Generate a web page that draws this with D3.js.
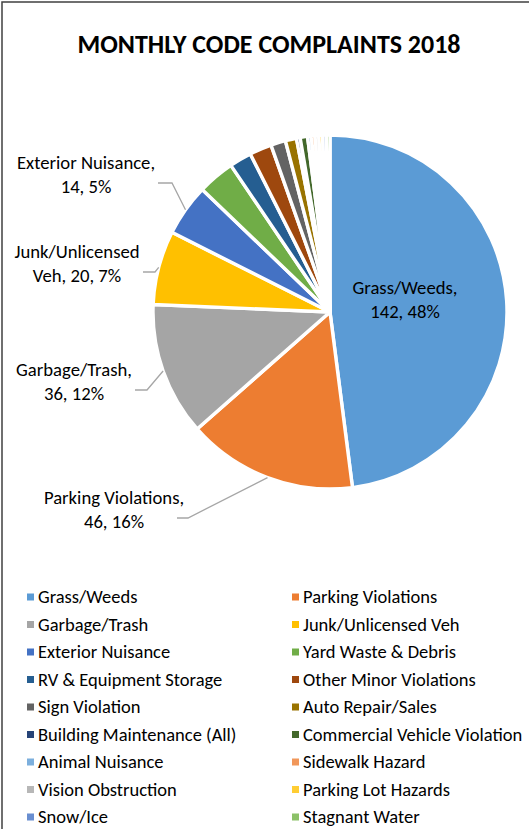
<!DOCTYPE html>
<html>
<head>
<meta charset="utf-8">
<script src="https://cdn.jsdelivr.net/npm/d3@7"></script>
<style>
    body { margin: 0; background: #fff; }
    text { font-family: Calibri, Carlito, Lato, sans-serif; fill: #000; }
</style>
</head>
<body>
<script>
// Complaint categories in legend order
const categories = [
    "Grass/Weeds", "Parking Violations", "Garbage/Trash", "Junk/Unlicensed Veh",
    "Exterior Nuisance", "Yard Waste & Debris", "RV & Equipment Storage", "Other Minor Violations",
    "Sign Violation", "Auto Repair/Sales", "Building Maintenance (All)", "Commercial Vehicle Violation",
    "Animal Nuisance", "Sidewalk Hazard", "Vision Obstruction", "Parking Lot Hazards",
    "Snow/Ice", "Stagnant Water"
];
const counts = [142, 46, 36, 20, 14, 10, 6, 6, 4, 3, 1, 2, 1, 1, 1, 1, 1, 1];

// Excel office palette
const colors = [
    "#5b9bd5", "#ed7d31", "#a5a5a5", "#ffc000", "#4472c4", "#70ad47",
    "#255e91", "#9e480e", "#636363", "#997300", "#264478", "#43682b",
    "#7cafdd", "#f1975a", "#b7b7b7", "#ffcd33", "#698ed0", "#8cc168"
];

const data = categories.map((c, i) => ({name: c, value: counts[i]}));
const total = d3.sum(counts);

const width = 529;
const height = 829;
const cx = 330, cy = 312, radius = 177;

const svg = d3.select("body").append("svg")
    .attr("width", width)
    .attr("height", height);

// chart border (runs off right / bottom)
svg.append("rect")
    .attr("x", 2).attr("y", 2)
    .attr("width", 700).attr("height", 1000)
    .attr("fill", "none")
    .attr("stroke", "#404040")
    .attr("stroke-width", 1.5);

svg.append("text")
    .attr("x", 269).attr("y", 53)
    .attr("text-anchor", "middle")
    .attr("font-size", "26px")
    .attr("font-weight", "bold")
    .text("MONTHLY CODE COMPLAINTS 2018");

const color = d3.scaleOrdinal().domain(categories).range(colors);

const pie = d3.pie().sort(null).value(d => d.value);
const arcs = pie(data);
const arc = d3.arc().innerRadius(0).outerRadius(radius);

const g = svg.append("g").attr("transform", `translate(${cx}, ${cy})`);

g.selectAll("path")
    .data(arcs)
    .enter().append("path")
        .attr("d", arc)
        .attr("fill", d => color(d.data.name))
        .attr("stroke", "#fff")
        .attr("stroke-width", 3.4)
        .attr("stroke-linejoin", "round");

// Data labels: text anchor + horizontal elbow for the outside ones
const labelLayout = [
    {i: 0, x: 405, y: 294, inside: true, lines: ["Grass/Weeds,", null]},
    {i: 1, x: 114, y: 504, elbow: [188, 177], lines: ["Parking Violations,", null]},
    {i: 2, x: 74, y: 376, elbow: [147, 135], lines: ["Garbage/Trash,", null]},
    {i: 3, x: 77, y: 258, elbow: [155, 143], lines: ["Junk/Unlicensed", "Veh, "]},
    {i: 4, x: 86, y: 169, elbow: [172, 158], lines: ["Exterior Nuisance,", null]}
];

const pct = d => Math.round(d.value / total * 100) + "%";

labelLayout.forEach(l => {
    const a = arcs[l.i];
    const lines = l.lines[1] === null
        ? [l.lines[0], `${a.data.value}, ${pct(a.data)}`]
        : [l.lines[0], `${l.lines[1]}${a.data.value}, ${pct(a.data)}`];

    const t = svg.append("text")
        .attr("text-anchor", "middle")
        .attr("font-size", "18.7px");
    lines.forEach((s, k) => {
        t.append("tspan")
            .attr("x", l.x)
            .attr("y", l.y + k * 24)
            .text(s);
    });

    if (!l.inside) {
        const mid = (a.startAngle + a.endAngle) / 2;
        const px = cx + radius * Math.sin(mid);
        const py = cy - radius * Math.cos(mid);
        const ey = l.y + 14;
        svg.append("polyline")
            .attr("points", `${px},${py} ${l.elbow[0]},${ey} ${l.elbow[1]},${ey}`)
            .attr("fill", "none")
            .attr("stroke", "#a6a6a6")
            .attr("stroke-width", 1.3);
    }
});

// Legend: two columns
const legendX = [27, 292];
const legendY0 = 597, legendStep = 27.5;

const legend = svg.append("g").attr("class", "legend");
const items = legend.selectAll("g")
    .data(categories)
    .enter().append("g")
        .attr("transform", (d, i) => `translate(${legendX[i % 2]}, ${legendY0 + Math.floor(i / 2) * legendStep})`);

items.append("rect")
    .attr("x", 0).attr("y", -3.5)
    .attr("width", 7).attr("height", 7)
    .attr("fill", d => color(d));

items.append("text")
    .attr("x", 11)
    .attr("y", 0)
    .attr("dy", "0.35em")
    .attr("font-size", "18.5px")
    .text(d => d);
</script>
</body>
</html>
